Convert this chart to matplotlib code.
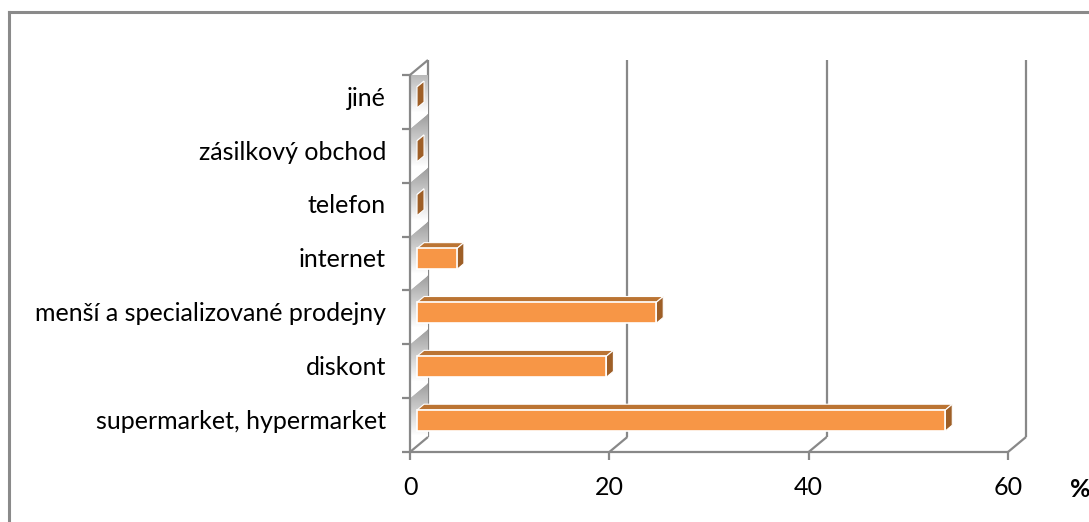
# Nákupní místa - 3D pruhový graf (podíl respondentů v %)
import matplotlib.pyplot as plt
import numpy as np
from matplotlib.patches import Polygon, Rectangle

plt.rcParams["font.family"] = ["Lato", "DejaVu Sans"]

categories = [
    "supermarket, hypermarket",
    "diskont",
    "menší a specializované prodejny",
    "internet",
    "telefon",
    "zásilkový obchod",
    "jiné",
]
values = [53, 19, 24, 4, 0, 0, 0]
xticks = [0, 20, 40, 60]

FRONT = "#F79646"  # front face of bars
TOP = "#BB7433"
SIDE = "#9E5F27"
LINE = "#888888"

W, H = 1089, 522
fig = plt.figure(figsize=(W / 100, H / 100), dpi=100)

# plot area: x 0..60 maps to 410..1008 px, categories to 452..75 px
ax = fig.add_axes([410 / W, (H - 452) / H, 598 / W, 377 / H])
n = len(categories)
ax.set_xlim(0, 60)
ax.set_ylim(-0.5, n - 0.5)
ax.axis("off")

# depth offset of the back wall, in data units (18 px right, 15 px up)
DX = 18 / 598 * 60
DY = 15 / (377 / n)
F1, F2 = 0.39, 0.78  # bar front / back depth
B0, B1 = -0.22, 0.17  # bar extent around slot centre

lw = 1.6
kw = dict(color=LINE, lw=lw, clip_on=False, solid_capstyle="butt")

# back wall gridlines
for g in xticks:
    ax.plot([g + DX, g + DX], [-0.5 + DY, n - 0.5 + DY], zorder=1, **kw)
# floor front edge and depth diagonals
ax.plot([0, 60], [-0.5, -0.5], zorder=3, **kw)
for g in xticks:
    ax.plot([g, g + DX], [-0.5, -0.5 + DY], zorder=3, **kw)
    ax.plot([g, g], [-0.5, -0.5 - 0.15], zorder=3, **kw)
# left wall
ax.plot([0, 0], [-0.5, n - 0.5], zorder=3, **kw)
ax.plot([0, DX], [n - 0.5, n - 0.5 + DY], zorder=3, **kw)
for k in range(n + 1):
    ax.plot([-0.8, 0], [k - 0.5, k - 0.5], zorder=3, **kw)

# shaded left wall, one gradient strip per category slot
grad = np.linspace(0.55, 1.0, 64).reshape(-1, 1)
grad = np.clip(grad * 1.12, 0, 1)
for i in range(n):
    poly = Polygon(
        [(0, i - 0.5), (DX, i - 0.5 + DY), (DX, i + 0.5 + DY), (0, i + 0.5)],
        closed=True, facecolor="none", edgecolor="none", transform=ax.transData,
    )
    ax.add_patch(poly)
    im = ax.imshow(
        grad, cmap="gray", vmin=0, vmax=1, aspect="auto", origin="upper",
        extent=[0, DX, i - 0.5, i + 0.5 + DY], zorder=2, interpolation="bilinear",
    )
    im.set_clip_path(poly)
ax.set_xlim(0, 60)
ax.set_ylim(-0.5, n - 0.5)

# bars: front, top and right side faces
for i, v in enumerate(values):
    y0, y1 = i + B0, i + B1
    fx, fy = F1 * DX, F1 * DY
    bx, by = F2 * DX, F2 * DY
    top = [(fx, y1 + fy), (v + fx, y1 + fy), (v + bx, y1 + by), (bx, y1 + by)]
    side = [(v + fx, y0 + fy), (v + bx, y0 + by), (v + bx, y1 + by), (v + fx, y1 + fy)]
    ax.add_patch(Polygon(top, closed=True, facecolor=TOP, edgecolor="white",
                         lw=0.8, zorder=4, clip_on=False))
    ax.add_patch(Polygon(side, closed=True, facecolor=SIDE, edgecolor="white",
                         lw=0.8, zorder=4, clip_on=False))
    if v > 0:
        ax.add_patch(Rectangle((fx, y0 + fy), v, y1 - y0, facecolor=FRONT,
                               edgecolor="white", lw=1.2, zorder=5, clip_on=False))

# category labels
fs = 18
for i, c in enumerate(categories):
    ax.text(-2.4, i + 0.07, c, ha="right", va="center", fontsize=fs,
            color="black", clip_on=False)
# value axis labels
for g in xticks:
    ax.text(g, -1.15, str(g), ha="center", va="center", fontsize=fs, clip_on=False)
ax.text(67.2, -1.2, "%", ha="center", va="center", fontsize=fs,
        fontweight="bold", clip_on=False)

# chart border
fig.add_artist(plt.Line2D([9 / W, 9 / W], [0, 1 - 11.5 / H], color="#8a8a8a",
                          lw=2.2, transform=fig.transFigure))
fig.add_artist(plt.Line2D([9 / W, 1], [1 - 11.5 / H, 1 - 11.5 / H], color="#8a8a8a",
                          lw=2.2, transform=fig.transFigure))

fig.savefig("out.png", dpi=100, facecolor="white")
